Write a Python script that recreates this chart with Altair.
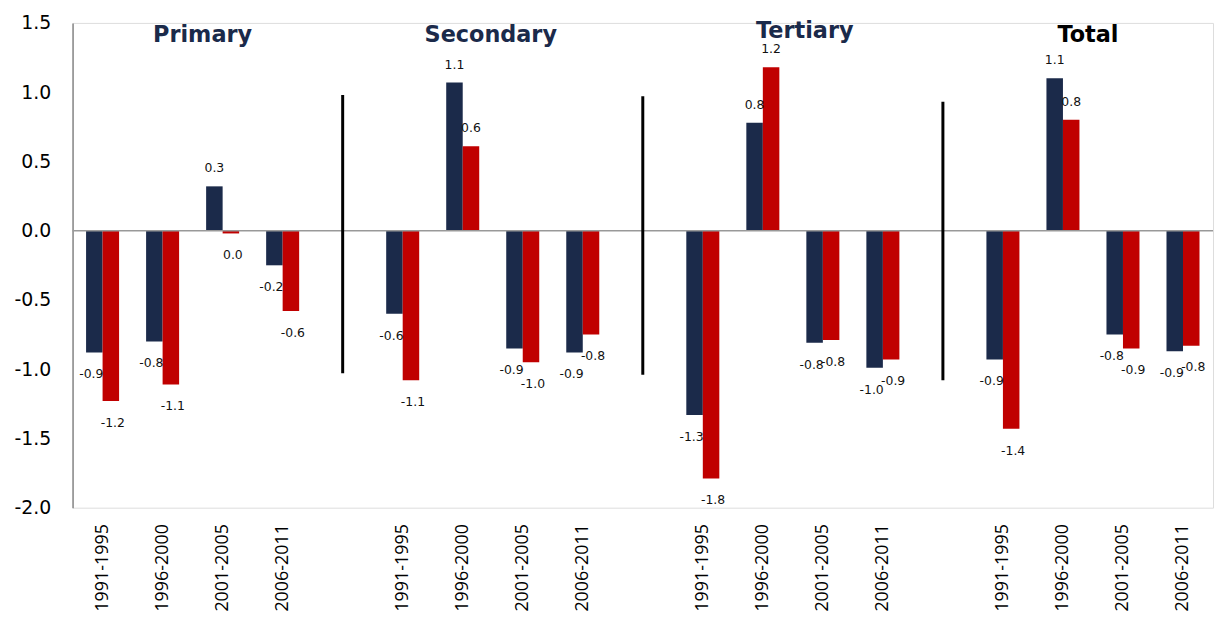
import altair as alt
import pandas as pd

groups = ["Primary", "Secondary", "Tertiary", "Total"]
periods = ["1991-1995", "1996-2000", "2001-2005", "2006-2011"]

# values per group (4 periods each)
navy_vals = [-0.88, -0.80, 0.32, -0.25,
             -0.60, 1.07, -0.85, -0.88,
             -1.33, 0.78, -0.81, -0.99,
             -0.93, 1.10, -0.75, -0.87]
red_vals = [-1.23, -1.11, -0.02, -0.58,
            -1.08, 0.61, -0.95, -0.75,
            -1.79, 1.18, -0.79, -0.93,
            -1.43, 0.80, -0.85, -0.83]
navy_labels = ["-0.9", "-0.8", "0.3", "-0.2",
               "-0.6", "1.1", "-0.9", "-0.9",
               "-1.3", "0.8", "-0.8", "-1.0",
               "-0.9", "1.1", "-0.8", "-0.9"]
red_labels = ["-1.2", "-1.1", "0.0", "-0.6",
              "-1.1", "0.6", "-1.0", "-0.8",
              "-1.8", "1.2", "-0.8", "-0.9",
              "-1.4", "0.8", "-0.9", "-0.8"]

sep_top = [0.98, 0.97, 0.93]
sep_bottom = [-1.03, -1.04, -1.08]

title_colors = ["#1b2a4a", "#1b2a4a", "#1b2a4a", "#000000"]
title_nudge = [10, -2, 12, -5]
title_y = [1.41, 1.41, 1.44, 1.41]

NAVY = "#1b2a4a"
RED = "#c00000"

domain = []
for gi, g in enumerate(groups):
    for p in periods:
        domain.append(f"{g}|{p}")
    if gi < len(groups) - 1:
        domain.append(f"gap{gi}")

rows = []
for gi, g in enumerate(groups):
    for pi, p in enumerate(periods):
        k = gi * 4 + pi
        rows.append({"slot": f"{g}|{p}", "series": "A", "value": navy_vals[k], "label": navy_labels[k]})
        rows.append({"slot": f"{g}|{p}", "series": "B", "value": red_vals[k], "label": red_labels[k]})
df = pd.DataFrame(rows)

sep_df = pd.DataFrame({"slot": [f"gap{i}" for i in range(3)], "top": sep_top, "bottom": sep_bottom})

W = 1148
H = 488

xscale = alt.Scale(domain=domain, paddingInner=0.45, paddingOuter=0.225)
xaxis = alt.Axis(
    labelAngle=270, labelFontSize=18, labelFont="Open Sans", labelColor="#000",
    labelExpr="indexof(datum.label, '|') >= 0 ? split(datum.label, '|')[1] : ''",
    ticks=False, domain=False, labelPadding=16, title=None,
)
yscale = alt.Scale(domain=[-2.0, 1.5], nice=False, zero=False)
yaxis = alt.Axis(
    values=[-2.0, -1.5, -1.0, -0.5, 0.0, 0.5, 1.0, 1.5],
    labelExpr="(datum.value < 0 ? '-' : '') + format(abs(datum.value), '.1f')",
    labelFontSize=19, labelFont="DejaVu Sans", labelColor="#000",
    ticks=False, grid=False, domainColor="#888888", domainWidth=1.5,
    labelPadding=22, title=None,
)

base = alt.Chart(df)

bars = base.mark_bar().encode(
    x=alt.X("slot:N", scale=xscale, axis=xaxis, sort=domain),
    xOffset=alt.XOffset("series:N", scale=alt.Scale(domain=["A", "B"])),
    y=alt.Y("value:Q", scale=yscale, axis=yaxis),
    color=alt.Color("series:N", scale=alt.Scale(domain=["A", "B"], range=[NAVY, RED]), legend=None),
)

lab_common = dict(fontSize=12.5, font="DejaVu Sans", color="#111", baseline="middle", align="center")


def label_layer(series, positive, dx):
    flt = "datum.value >= 0" if positive else "datum.value < 0"
    return base.transform_filter(f"datum.series == '{series}' && {flt}").mark_text(
        dy=-18 if positive else 22, dx=dx, **lab_common
    ).encode(
        x=alt.X("slot:N", sort=domain),
        xOffset=alt.XOffset("series:N"),
        y=alt.Y("value:Q"),
        text="label:N",
    )


labels = [
    label_layer("A", True, 0), label_layer("A", False, -3),
    label_layer("B", True, 0), label_layer("B", False, 2),
]

zero = alt.Chart(pd.DataFrame({"z": [0]})).mark_rule(color="#999999", strokeWidth=1.5).encode(
    y=alt.Y("z:Q")
)

seps = alt.Chart(sep_df).mark_rule(color="#000000", strokeWidth=3).encode(
    x=alt.X("slot:N", sort=domain),
    y=alt.Y("top:Q"),
    y2="bottom:Q",
)

step = W / len(domain)
titles = []
for gi, g in enumerate(groups):
    tdf = pd.DataFrame({"slot": [f"{g}|1996-2000"], "t": [g], "yv": [title_y[gi]]})
    titles.append(
        alt.Chart(tdf).mark_text(
            fontSize=22.5, fontWeight="bold", font="DejaVu Sans", color=title_colors[gi],
            baseline="middle", align="center", dx=step / 2 + title_nudge[gi],
        ).encode(
            x=alt.X("slot:N", sort=domain),
            y=alt.Y("yv:Q"),
            text="t:N",
        )
    )

chart = alt.layer(bars, zero, seps, *labels, *titles).properties(
    width=W, height=H,
    padding={"left": 5, "top": 4, "right": 0, "bottom": 0},
).configure_view(stroke=None).configure(background="white")

chart.save("out.html", embed_options={"renderer": "svg", "actions": False})
